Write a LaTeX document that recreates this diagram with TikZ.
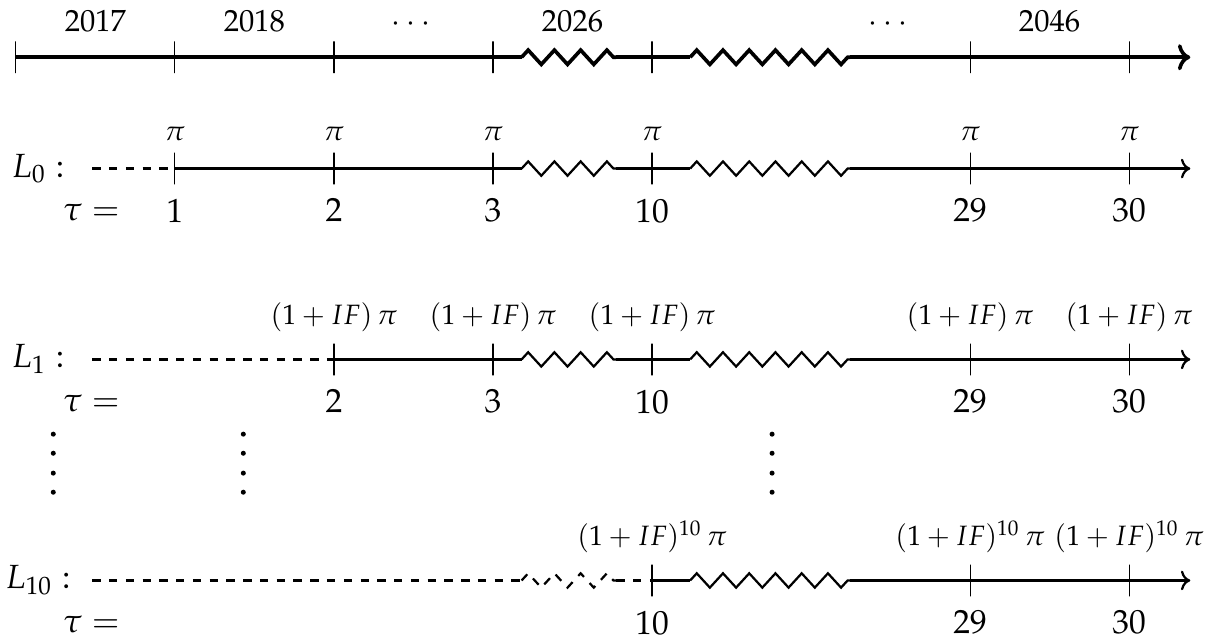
\documentclass[tikz,border=0pt,12pt]{standalone}
\usepackage[T1]{fontenc}
\usepackage{mathpazo}
\usepackage{amsmath}
\usetikzlibrary{arrows.meta, decorations.pathmorphing}

\begin{document}
\begin{tikzpicture}[
  >=To,
  topln/.style={line width=1.3pt},
  rowln/.style={thick},
  tk/.style={draw, thin, minimum height=4mm, minimum width=0pt,
             inner sep=0pt, outer sep=0pt},
  zz/.style={decorate, decoration={zigzag, segment length=3.3mm,
             amplitude=0.9mm}},
  yr/.style={anchor=base, font=\small},
  lab/.style={font=\footnotesize},
  tval/.style={label distance=1pt},
  rowname/.style={anchor=center},
  taueq/.style={anchor=base}
]
\useasboundingbox (-0.2,-8.063) rectangle (15.03,0);

% calendar years
\node[tk] (y0) at (0,-0.72) {};
\node[tk] (y1) at (2,-0.72) {};
\node[tk] (y2) at (4,-0.72) {};
\node[tk] (y3) at (6,-0.72) {};
\node[tk] (y4) at (8,-0.72) {};
\node[tk] (y6) at (12,-0.72) {};
\node[tk] (y7) at (14,-0.72) {};
\coordinate (yz1a) at (6.36,-0.72);
\coordinate (yz1b) at (7.55,-0.72);
\coordinate (yz2a) at (8.48,-0.72);
\coordinate (yz2b) at (10.49,-0.72);
\coordinate (yend) at (14.77,-0.72);

\node[yr] (yr2017) at (1,-0.4) {2017};
\node[yr] (yr2018) at (3,-0.4) {2018};
\node[yr] (yrdots1) at (5,-0.4) {$\cdots$};
\node[yr] (yr2026) at (7,-0.4) {2026};
\node[yr] (yrdots2) at (11,-0.4) {$\cdots$};
\node[yr] (yr2046) at (13,-0.4) {2046};

\draw[topln] (y0) -- (y1) -- (y2) -- (y3) -- (yz1a);
\draw[topln, zz] (yz1a) -- (yz1b);
\draw[topln] (yz1b) -- (y4) -- (yz2a);
\draw[topln, zz] (yz2a) -- (yz2b);
\draw[topln, ->] (yz2b) -- (y6) -- (y7) -- (yend);

% level 0
\node[rowname] (L0) at (0.28,-2.12) {$L_0 :$};
\node[taueq] (tau0) at (0.95,-2.77) {$\tau =$};
\coordinate (r0s) at (0.96,-2.12);
\node[tk, label={[lab]above:$\pi$}, label={[tval]below:$1$}] (r0t1) at (2,-2.12) {};
\node[tk, label={[lab]above:$\pi$}, label={[tval]below:$2$}] (r0t2) at (4,-2.12) {};
\node[tk, label={[lab]above:$\pi$}, label={[tval]below:$3$}] (r0t3) at (6,-2.12) {};
\node[tk, label={[lab]above:$\pi$}, label={[tval]below:$10$}] (r0t4) at (8,-2.12) {};
\node[tk, label={[lab]above:$\pi$}, label={[tval]below:$29$}] (r0t6) at (12,-2.12) {};
\node[tk, label={[lab]above:$\pi$}, label={[tval]below:$30$}] (r0t7) at (14,-2.12) {};
\coordinate (r0z1a) at (6.36,-2.12);
\coordinate (r0z1b) at (7.55,-2.12);
\coordinate (r0z2a) at (8.48,-2.12);
\coordinate (r0z2b) at (10.49,-2.12);
\coordinate (r0e) at (14.77,-2.12);

\draw[rowln, dashed] (r0s) -- (r0t1);
\draw[rowln] (r0t1) -- (r0t2) -- (r0t3) -- (r0z1a);
\draw[rowln, zz] (r0z1a) -- (r0z1b);
\draw[rowln] (r0z1b) -- (r0t4) -- (r0z2a);
\draw[rowln, zz] (r0z2a) -- (r0z2b);
\draw[rowln, ->] (r0z2b) -- (r0t6) -- (r0t7) -- (r0e);

% level 1
\node[rowname] (L1) at (0.28,-4.52) {$L_1 :$};
\node[taueq] (tau1) at (0.95,-5.17) {$\tau =$};
\coordinate (r1s) at (0.96,-4.52);
\node[tk, label={[lab]above:$(1+IF)\,\pi$}, label={[tval]below:$2$}] (r1t2) at (4,-4.52) {};
\node[tk, label={[lab]above:$(1+IF)\,\pi$}, label={[tval]below:$3$}] (r1t3) at (6,-4.52) {};
\node[tk, label={[lab]above:$(1+IF)\,\pi$}, label={[tval]below:$10$}] (r1t4) at (8,-4.52) {};
\node[tk, label={[lab]above:$(1+IF)\,\pi$}, label={[tval]below:$29$}] (r1t6) at (12,-4.52) {};
\node[tk, label={[lab]above:$(1+IF)\,\pi$}, label={[tval]below:$30$}] (r1t7) at (14,-4.52) {};
\coordinate (r1z1a) at (6.36,-4.52);
\coordinate (r1z1b) at (7.55,-4.52);
\coordinate (r1z2a) at (8.48,-4.52);
\coordinate (r1z2b) at (10.49,-4.52);
\coordinate (r1e) at (14.77,-4.52);

\draw[rowln, dashed] (r1s) -- (r1t2);
\draw[rowln] (r1t2) -- (r1t3) -- (r1z1a);
\draw[rowln, zz] (r1z1a) -- (r1z1b);
\draw[rowln] (r1z1b) -- (r1t4) -- (r1z2a);
\draw[rowln, zz] (r1z2a) -- (r1z2b);
\draw[rowln, ->] (r1z2b) -- (r1t6) -- (r1t7) -- (r1e);

% vertical ellipses
\fill (0.47,-5.46) circle (0.9pt) (0.47,-5.70) circle (0.9pt)
      (0.47,-5.95) circle (0.9pt) (0.47,-6.19) circle (0.9pt);
\fill (2.86,-5.46) circle (0.9pt) (2.86,-5.70) circle (0.9pt)
      (2.86,-5.95) circle (0.9pt) (2.86,-6.19) circle (0.9pt);
\fill (9.51,-5.46) circle (0.9pt) (9.51,-5.70) circle (0.9pt)
      (9.51,-5.95) circle (0.9pt) (9.51,-6.19) circle (0.9pt);

% level 10
\node[rowname] (L10) at (0.28,-7.30) {$L_{10} :$};
\node[taueq] (tau10) at (0.95,-7.95) {$\tau =$};
\coordinate (r10s) at (0.96,-7.30);
\coordinate (r10z1a) at (6.36,-7.30);
\coordinate (r10z1b) at (7.55,-7.30);
\node[tk, label={[lab]above:$(1+IF)^{10}\,\pi$}, label={[tval]below:$10$}] (r10t4) at (8,-7.30) {};
\node[tk, label={[lab]above:$(1+IF)^{10}\,\pi$}, label={[tval]below:$29$}] (r10t6) at (12,-7.30) {};
\node[tk, label={[lab]above:$(1+IF)^{10}\,\pi$}, label={[tval]below:$30$}] (r10t7) at (14,-7.30) {};
\coordinate (r10z2a) at (8.48,-7.30);
\coordinate (r10z2b) at (10.49,-7.30);
\coordinate (r10e) at (14.77,-7.30);

\draw[rowln, dashed] (r10s) -- (r10z1a);
\draw[rowln, dashed, zz] (r10z1a) -- (r10z1b);
\draw[rowln, dashed] (r10z1b) -- (r10t4);
\draw[rowln] (r10t4) -- (r10z2a);
\draw[rowln, zz] (r10z2a) -- (r10z2b);
\draw[rowln, ->] (r10z2b) -- (r10t6) -- (r10t7) -- (r10e);

\end{tikzpicture}
\end{document}
